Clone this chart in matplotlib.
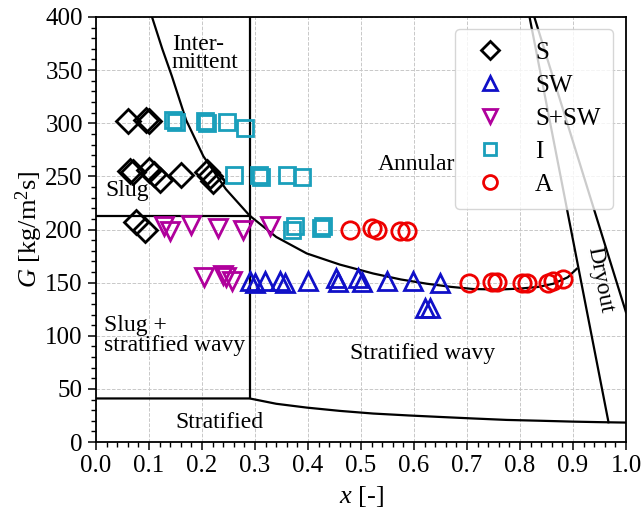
import matplotlib
matplotlib.use("Agg")
import matplotlib.pyplot as plt
from matplotlib.ticker import MultipleLocator

plt.rcParams["font.family"] = ["Liberation Serif", "DejaVu Serif"]
plt.rcParams["mathtext.fontset"] = "custom"
plt.rcParams["mathtext.rm"] = "Liberation Serif"
plt.rcParams["mathtext.it"] = "Liberation Serif:italic"

# flow pattern observations (x [-], G [kg/m2s])
s_x = [0.06, 0.095, 0.10, 0.065, 0.07, 0.10, 0.11, 0.12, 0.16, 0.21, 0.215, 0.22, 0.075, 0.092]
s_g = [302, 303, 302, 255, 254, 256, 252, 247, 251, 254, 250, 246, 207, 200]

sw_x = [0.29, 0.30, 0.319, 0.347, 0.357, 0.40, 0.452, 0.457, 0.494, 0.502, 0.549, 0.598, 0.649, 0.62, 0.63]
sw_g = [152, 150, 152, 152, 150, 152, 154, 151, 154, 151, 152, 152, 150, 126, 126]

ssw_x = [0.128, 0.14, 0.18, 0.23, 0.278, 0.328, 0.203, 0.24, 0.245, 0.256]
ssw_g = [203, 199, 204, 201, 200, 203, 155, 157, 155, 152]

i_x = [0.145, 0.15, 0.205, 0.21, 0.247, 0.281, 0.26, 0.307, 0.312, 0.36, 0.388, 0.37, 0.375, 0.424, 0.428]
i_g = [303, 301, 302, 300, 301, 296, 251, 251, 249, 251, 249, 200, 203, 201, 203]

a_x = [0.479, 0.52, 0.53, 0.574, 0.586, 0.703, 0.748, 0.756, 0.803, 0.813, 0.853, 0.863, 0.882]
a_g = [200, 201, 200, 199, 199, 150, 151, 151, 150, 150, 150, 152, 153]

# transition boundaries
int_x = [0.105, 0.125, 0.143, 0.17, 0.2025, 0.245, 0.29, 0.34, 0.3975, 0.46, 0.523, 0.575, 0.624, 0.67, 0.712, 0.76, 0.80, 0.835, 0.863, 0.89, 0.907]
int_g = [401, 370, 344.5, 303, 269, 238, 213, 193, 177.5, 167, 158.6, 153, 149, 146, 144, 143.5, 144.4, 146, 149, 155, 163]

strat_x = [0.0, 0.29, 0.34, 0.3975, 0.46, 0.523, 0.59, 0.649, 0.71, 0.775, 0.84, 0.90, 0.95, 1.0]
strat_g = [41, 41, 36, 32.4, 29.3, 26.8, 25, 23.6, 22.2, 20.8, 20, 19.2, 18.7, 18.3]

slug_x = [0.0, 0.29]
slug_g = [213, 213]

vert_x = [0.29, 0.29]
vert_g = [41, 400]

dry1_x = [0.818, 0.967]
dry1_g = [400, 18.6]
dry2_x = [0.827, 1.0]
dry2_g = [400, 122]

fig = plt.figure(figsize=(6.41, 5.15), dpi=100)
ax = fig.add_axes([0.1498, 0.1417, 0.8268, 0.8253])

for bx, bg in [(int_x, int_g), (strat_x, strat_g), (slug_x, slug_g),
               (vert_x, vert_g), (dry1_x, dry1_g), (dry2_x, dry2_g)]:
    ax.plot(bx, bg, color="black", lw=1.6, zorder=2)

base = dict(ls="none", mew=2.0, mfc="none", zorder=3)
ax.plot(s_x, s_g, marker="D", mec="black", label="S", ms=12, **base)
ax.plot(sw_x, sw_g, marker="^", mec="#1010c8", label="SW", ms=13, **base)
ax.plot(ssw_x, ssw_g, marker="v", mec="#b0009c", label="S+SW", ms=13, **base)
ax.plot(i_x, i_g, marker="s", mec="#1a9fbb", label="I", ms=11.5, **base)
ax.plot(a_x, a_g, marker="o", mec="#ee0000", label="A", ms=12.5, **base)

fs = 17
ax.text(0.143, 366, "Inter-\nmittent", fontsize=fs, ha="left", va="center", linespacing=0.8)
ax.text(0.018, 237, "Slug", fontsize=fs, ha="left", va="center")
ax.text(0.532, 261, "Annular", fontsize=fs, ha="left", va="center")
ax.text(0.015, 100, "Slug +\nstratified wavy", fontsize=fs, ha="left", va="center", linespacing=0.95)
ax.text(0.479, 83, "Stratified wavy", fontsize=fs, ha="left", va="center")
ax.text(0.149, 18, "Stratified", fontsize=fs, ha="left", va="center")
ax.text(0.951, 153, "Dryout", fontsize=fs, ha="center", va="center", rotation=-79)

ax.set_xlim(0, 1)
ax.set_ylim(0, 400)
ax.xaxis.set_major_locator(MultipleLocator(0.1))
ax.xaxis.set_minor_locator(MultipleLocator(0.02))
ax.yaxis.set_major_locator(MultipleLocator(50))
ax.yaxis.set_minor_locator(MultipleLocator(10))
ax.tick_params(which="major", direction="out", length=6, width=1.1, labelsize=18)
ax.tick_params(which="minor", direction="out", length=3.5, width=1)
ax.set_xticklabels([f"{v:.1f}" for v in ax.get_xticks()])
ax.grid(True, which="major", ls="--", color="#c8c8c8", lw=0.7)
ax.set_axisbelow(True)
for sp in ax.spines.values():
    sp.set_linewidth(1.3)

ax.set_xlabel("$x$ [-]", fontsize=19, labelpad=5)
ax.set_ylabel("$G$ [kg/m$^2$s]", fontsize=19, labelpad=0)

ax.legend(loc="upper right", fontsize=18, markerscale=0.8, handletextpad=0.9,
          labelspacing=0.42, borderpad=0.5, borderaxespad=0,
          bbox_to_anchor=(0.9755, 0.9716), handlelength=1.8)

fig.savefig("out.png", dpi=100)
